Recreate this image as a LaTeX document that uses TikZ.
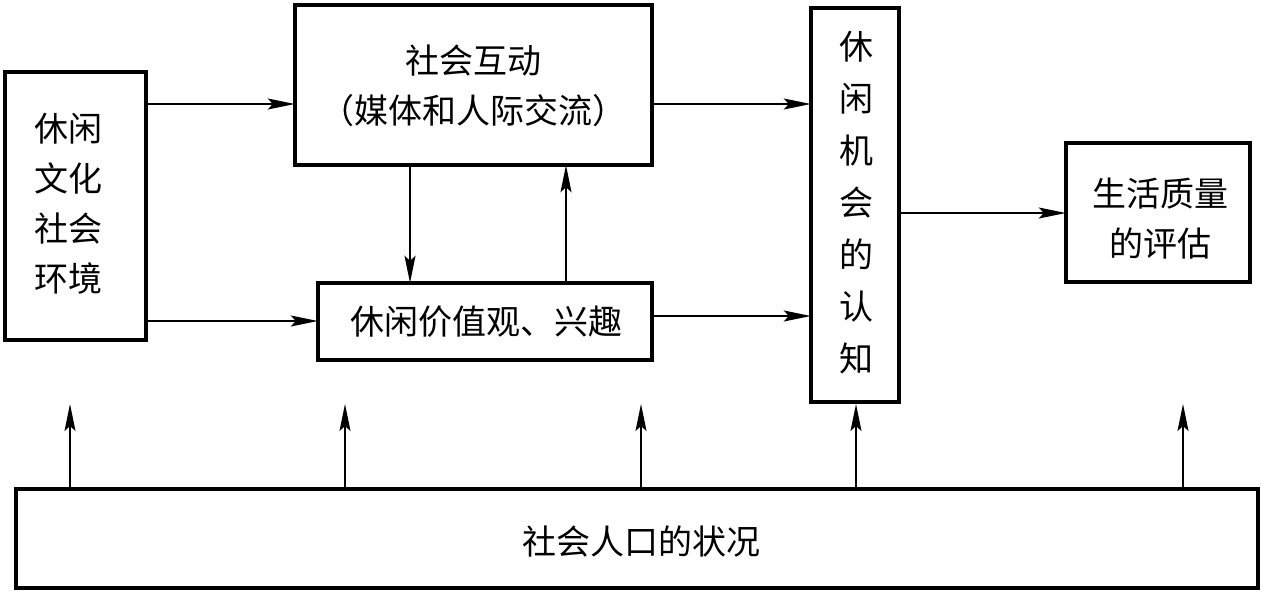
\documentclass[tikz,border=0pt]{standalone}
\usepackage{fontspec}
\setmainfont{Noto Sans CJK SC}
\usetikzlibrary{arrows.meta}
\begin{document}
\begin{tikzpicture}[x=1pt,y=-1pt,
  box/.style={draw,line width=3.2pt,inner sep=0pt},
  lbl/.style={font=\fontsize{34}{50}\selectfont,align=center,inner sep=0pt},
  arr/.style={line width=1.7pt,-{Stealth[length=27pt,width=11pt,inset=5pt]}}]
\useasboundingbox (0,0) rectangle (1268,595);
% boxes
\draw[box] (5,72) rectangle (146,340);
\draw[box] (295,5) rectangle (652,165);
\draw[box] (318,283) rectangle (652,360);
\draw[box] (811,8) rectangle (899,402);
\draw[box] (1066,143) rectangle (1250,282);
\draw[box] (16,489) rectangle (1258,588);
% named node anchors
\node (left) [minimum width=141pt,minimum height=268pt,inner sep=0pt] at (75.5,206) {};
\node (top) [minimum width=357pt,minimum height=160pt,inner sep=0pt] at (473.5,85) {};
\node (mid) [minimum width=334pt,minimum height=77pt,inner sep=0pt] at (485,321.5) {};
\node (tall) [minimum width=88pt,minimum height=394pt,inner sep=0pt] at (855,205) {};
\node (right) [minimum width=184pt,minimum height=139pt,inner sep=0pt] at (1158,212.5) {};
\node (bot) [minimum width=1242pt,minimum height=99pt,inner sep=0pt] at (637,538.5) {};
% texts
\node[lbl] at (68,204) {休闲\\文化\\社会\\环境};
\node[lbl] at (473,86) {社会互动\\（媒体和人际交流）};
\node[lbl] at (486,322) {休闲价值观、兴趣};
\node[lbl,font=\fontsize{34}{52}\selectfont] at (856,203) {休\\闲\\机\\会\\的\\认\\知};
\node[lbl] at (1160,219) {生活质量\\的评估};
\node[lbl] at (641,542) {社会人口的状况};
% arrows
\draw[arr] (left.east |- 0,104) -- (top.west |- 0,104);
\draw[arr] (left.east |- 0,321) -- (mid.west |- 0,321);
\draw[arr] (top.east |- 0,104) -- (tall.west |- 0,104);
\draw[arr] (mid.east |- 0,316) -- (tall.west |- 0,316);
\draw[arr] (tall.east |- 0,213) -- (right.west |- 0,213);
\draw[arr] (top.south -| 410,0) -- (mid.north -| 410,0);
\draw[arr] (mid.north -| 566,0) -- (top.south -| 566,0);
\foreach \x in {70,345,641,856,1183}
  \draw[arr] (bot.north -| \x,0) -- (\x,404);
\end{tikzpicture}
\end{document}
